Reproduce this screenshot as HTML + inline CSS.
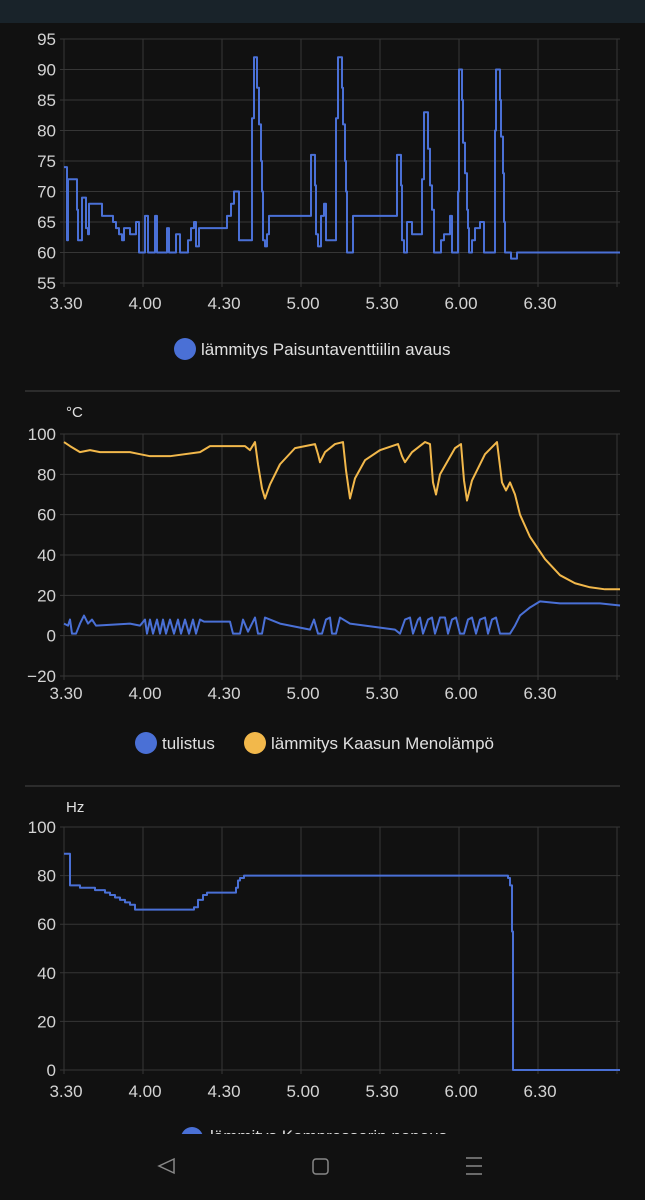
<!DOCTYPE html>
<html><head><meta charset="utf-8">
<style>
html,body{margin:0;padding:0;background:#111;width:645px;height:1200px;overflow:hidden;font-family:"Liberation Sans",sans-serif}
svg{position:absolute;left:0;top:0}
</style></head><body>
<svg width="645" height="1200" viewBox="0 0 645 1200" xmlns="http://www.w3.org/2000/svg">
<rect x="0" y="0" width="645" height="1200" fill="#111"/>
<rect x="0" y="0" width="645" height="23" fill="#19232a"/>
<g id="grid" stroke="#363636" stroke-width="1"></g>
<g id="lbl" fill="#d4d4d4" font-size="17" font-family="Liberation Sans, sans-serif"></g>
<g id="series" fill="none" stroke-width="2" stroke-linejoin="round"></g>
<line x1="25" y1="391" x2="620" y2="391" stroke="#2c2c2c" stroke-width="2"/>
<line x1="25" y1="786" x2="620" y2="786" stroke="#2c2c2c" stroke-width="2"/>
<g font-size="17" fill="#e0e0e0" font-family="Liberation Sans, sans-serif">
<circle cx="185" cy="349" r="11" fill="#4a70d6"/>
<text x="201" y="355">lämmitys Paisuntaventtiilin avaus</text>
<text x="66" y="417" font-size="15">°C</text>
<circle cx="146" cy="743" r="11" fill="#4a70d6"/>
<text x="162" y="749">tulistus</text>
<circle cx="255" cy="743" r="11" fill="#f2b84b"/>
<text x="271" y="749">lämmitys Kaasun Menolämpö</text>
<text x="66" y="812" font-size="15">Hz</text>
</g>
<circle cx="192" cy="1138" r="11" fill="#4a70d6"/>
<text x="210" y="1142" font-size="17" fill="#e0e0e0">lämmitys Kompressorin nopeus</text>
<rect x="0" y="1134" width="645" height="66" fill="#111"/>
<path d="M174 1159 L159 1166 L174 1173 Z" fill="none" stroke="#888" stroke-width="1.5"/>
<rect x="313" y="1159" width="15" height="15" rx="3" fill="none" stroke="#888" stroke-width="1.5"/>
<path d="M466 1158h16M466 1166h16M466 1174h16" stroke="#888" stroke-width="1.5"/>
</svg>
<script>
const NS="http://www.w3.org/2000/svg";
const grid=document.getElementById('grid'),lbl=document.getElementById('lbl'),ser=document.getElementById('series');
function el(p,t,a,txt){const e=document.createElementNS(NS,t);for(const k in a)e.setAttribute(k,a[k]);if(txt!==undefined)e.textContent=txt;p.appendChild(e);return e;}
const xs=[64,143,222,301,380,459,538,617];const xl=["3.30","4.00","4.30","5.00","5.30","6.00","6.30"];
function chart(top,bot,vals,xlY){
  vals.forEach((v,i)=>{const y=top+(bot-top)*i/(vals.length-1);
    el(grid,'line',{x1:60,x2:620,y1:y,y2:y});
    el(lbl,'text',{x:56,y:y+6,'text-anchor':'end'},v);});
  xs.forEach(x=>el(grid,'line',{x1:x,x2:x,y1:top,y2:bot+4}));
  xl.forEach((t,i)=>el(lbl,'text',{x:xs[i]+2,y:xlY,'text-anchor':'middle'},t));
}
chart(39,283,["95","90","85","80","75","70","65","60","55"],309);
chart(434,676,["100","80","60","40","20","0","−20"],699);
chart(827,1070,["100","80","60","40","20","0"],1097);
function step(pts,fy,col){let d="";pts.forEach((p,i)=>{const y=fy(p[1]);if(i==0)d="M"+p[0]+" "+y;else d+=" H"+p[0]+" V"+y;});el(ser,'path',{d:d,stroke:col});}
function line(pts,fy,col){el(ser,'path',{d:"M"+pts.map(p=>p[0]+" "+fy(p[1])).join(" L"),stroke:col});}
const f1=v=>39+(95-v)*6.1;
step([[64,74],[67,62],[68,72],[77,67],[78,62],[82,69],[86,64],[88,63],[89,68],[102,66],[113,65],[116,64],[119,63],[122,62],[124,64],[130,63],[136,65],[139,60],[145,66],[148,60],[155,66],[157,60],[167,64],[169,60],[176,63],[180,60],[188,62],[191,64],[194,65],[196,61],[199,64],[227,66],[231,68],[234,70],[239,62],[252,82],[254,92],[257,87],[259,81],[261,75],[262,70],[263,62],[265,61],[267,63],[269,66],[311,76],[315,71],[316,63],[318,61],[321,66],[324,68],[326,62],[336,82],[338,92],[342,87],[343,81],[345,75],[346,70],[347,60],[353,66],[397,76],[401,71],[402,62],[404,60],[407,65],[412,63],[422,72],[424,83],[428,77],[430,71],[432,67],[434,60],[441,62],[444,63],[450,66],[452,60],[458,70],[459,90],[462,85],[463,78],[465,73],[467,67],[468,64],[469,60],[472,62],[475,64],[480,65],[484,60],[495,80],[496,90],[500,85],[501,79],[503,73],[504,65],[505,60],[511,59],[517,60],[620,60]],f1,"#4a70d6");
const f2=v=>434+(100-v)*2.017;
line([[64,6],[68,5],[70,8],[72,1],[76,1],[80,6],[84,10],[88,6],[92,8],[96,5],[130,6],[140,5],[145,8],[147,1],[150,8],[153,1],[157,8],[160,1],[163,8],[166,1],[170,8],[174,1],[178,8],[181,1],[185,8],[189,1],[193,8],[196,1],[200,8],[204,7],[230,7],[233,1],[240,1],[243,8],[248,2],[255,9],[258,1],[262,1],[265,9],[270,8],[280,6],[300,4],[310,3],[314,8],[318,1],[322,1],[326,8],[330,9],[332,1],[336,1],[340,9],[350,6],[380,4],[395,3],[400,1],[405,8],[410,9],[413,1],[418,8],[420,9],[423,1],[428,8],[432,9],[435,1],[440,9],[445,9],[448,1],[452,8],[456,9],[460,1],[464,1],[468,8],[472,9],[476,1],[480,8],[485,9],[488,1],[492,8],[496,9],[500,1],[510,1],[515,5],[520,10],[530,14],[540,17],[560,16],[600,16],[620,15]],f2,"#4a70d6");
line([[64,96],[70,94],[80,91],[90,92],[100,91],[130,91],[140,90],[150,89],[170,89],[200,91],[210,94],[245,94],[250,92],[255,96],[258,85],[262,73],[265,68],[270,75],[280,85],[295,93],[315,95],[318,90],[320,86],[325,91],[335,95],[343,96],[346,82],[350,68],[355,78],[365,87],[380,92],[398,95],[402,89],[405,86],[412,91],[425,96],[430,95],[433,76],[436,70],[440,80],[455,93],[461,95],[464,77],[467,67],[472,77],[485,90],[497,96],[502,76],[506,72],[510,76],[515,70],[520,60],[530,49],[545,38],[560,30],[575,26],[590,24],[605,23],[620,23]],f2,"#f2b84b");
const f3=v=>827+(100-v)*2.43;
step([[64,89],[68,89],[70,76],[80,75],[90,75],[95,74],[100,74],[105,73],[110,72],[115,71],[120,70],[125,69],[130,68],[135,66],[190,66],[194,67],[198,70],[203,72],[207,73],[236,75],[238,78],[240,79],[244,80],[505,80],[508,79],[510,76],[512,57],[513,0],[620,0]],f3,"#4a70d6");
</script>
</body></html>
